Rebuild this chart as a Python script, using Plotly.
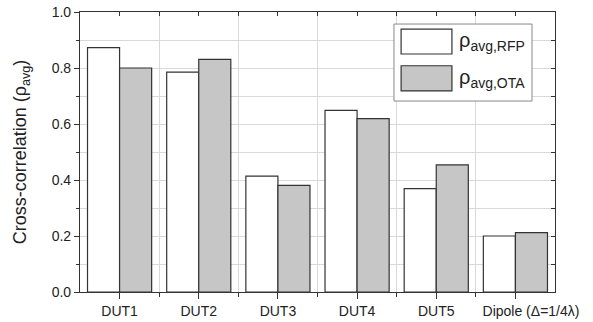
import plotly.graph_objects as go

# Devices under test and their average cross-correlation
categories = ["DUT1", "DUT2", "DUT3", "DUT4", "DUT5", "Dipole (Δ=1/4λ)"]
rho_rfp = [0.873, 0.785, 0.414, 0.649, 0.369, 0.200]
rho_ota = [0.800, 0.831, 0.381, 0.619, 0.454, 0.212]
y_ticks = [0.0, 0.2, 0.4, 0.6, 0.8, 1.0]

FONT = "Liberation Sans, Arial, sans-serif"
AXIS = "#333333"
GRID = "#d9d9d9"
GRAY = "#c6c6c6"

x_idx = list(range(len(categories)))
tick_text = categories[:-1] + ["\u00a0" * 8 + categories[-1]]
boundaries = [i + 0.5 for i in x_idx[:-1]]

fig = go.Figure()
fig.add_trace(go.Bar(x=x_idx, y=rho_rfp, name="RFP",
                     marker=dict(color="white", line=dict(color=AXIS, width=1.2)),
                     showlegend=False))
fig.add_trace(go.Bar(x=x_idx, y=rho_ota, name="OTA",
                     marker=dict(color=GRAY, line=dict(color=AXIS, width=1.2)),
                     showlegend=False))
# invisible trace so the mirrored top/right axes are drawn
fig.add_trace(go.Scatter(x=[0], y=[0], xaxis="x2", yaxis="y2", mode="markers",
                         marker=dict(opacity=0), showlegend=False, hoverinfo="skip"))

fig.update_layout(
    width=593, height=322,
    margin=dict(l=80, r=38, t=12, b=30, autoexpand=False),
    paper_bgcolor="white", plot_bgcolor="white",
    font=dict(family=FONT, size=13, color="#222222"),
    barmode="group", bargap=0.19, bargroupgap=0,
    xaxis=dict(range=[-0.5, 5.5], tickmode="array", tickvals=x_idx, ticktext=tick_text,
               tickangle=0, automargin=False,
               ticks="outside", ticklen=6, tickcolor=AXIS, showgrid=False,
               showline=True, linecolor=AXIS, linewidth=1.2, zeroline=False,
               tickfont=dict(size=14), ticklabelstandoff=0,
               minor=dict(tickmode="array", tickvals=boundaries, ticks="outside",
                          ticklen=4, tickcolor=AXIS, showgrid=True,
                          gridcolor=GRID, gridwidth=1)),
    xaxis2=dict(range=[-0.5, 5.5], overlaying="x", side="top", tickmode="array",
                tickvals=[i * 0.5 for i in range(12)], ticks="inside", ticklen=4,
                tickcolor=AXIS, showticklabels=False, showgrid=False,
                showline=True, linecolor=AXIS, linewidth=1.2, zeroline=False),
    yaxis=dict(range=[0, 1], tickmode="array", tickvals=y_ticks, tickformat=".1f",
               ticks="outside", ticklen=5, tickcolor=AXIS, showgrid=False,
               showline=True, linecolor=AXIS, linewidth=1.2, zeroline=False,
               tickfont=dict(size=14), automargin=False,
               title=dict(text="Cross-correlation (ρ<sub>avg</sub>)",
                          font=dict(size=18), standoff=20),
               minor=dict(dtick=0.1, tick0=0, ticks="outside", ticklen=3,
                          tickcolor=AXIS, showgrid=True, gridcolor=GRID, gridwidth=1)),
    yaxis2=dict(range=[0, 1], overlaying="y", side="right", dtick=0.1, tick0=0,
                ticks="inside", ticklen=4, tickcolor=AXIS, showticklabels=False,
                showgrid=False, showline=True, linecolor=AXIS, linewidth=1.2,
                zeroline=False),
)

# Legend box drawn with shapes
fig.add_shape(type="rect", xref="paper", yref="paper", x0=0.661, x1=0.9516,
              y0=0.682, y1=0.957, fillcolor="white", line=dict(color="#888888", width=1))
legend_items = [("ρ<sub>avg,RFP</sub>", "white", 0.939, 0.850),
                ("ρ<sub>avg,OTA</sub>", GRAY, 0.808, 0.718)]
for label, color, ytop, ybot in legend_items:
    fig.add_shape(type="rect", xref="paper", yref="paper", x0=0.676, x1=0.783,
                  y0=ybot, y1=ytop, fillcolor=color, line=dict(color=AXIS, width=1.2))
    fig.add_annotation(xref="paper", yref="paper", x=0.793, y=(ytop + ybot) / 2,
                       text=label, showarrow=False, xanchor="left", yanchor="middle",
                       font=dict(size=20, color="#222222"))

fig.write_html("out.html")
